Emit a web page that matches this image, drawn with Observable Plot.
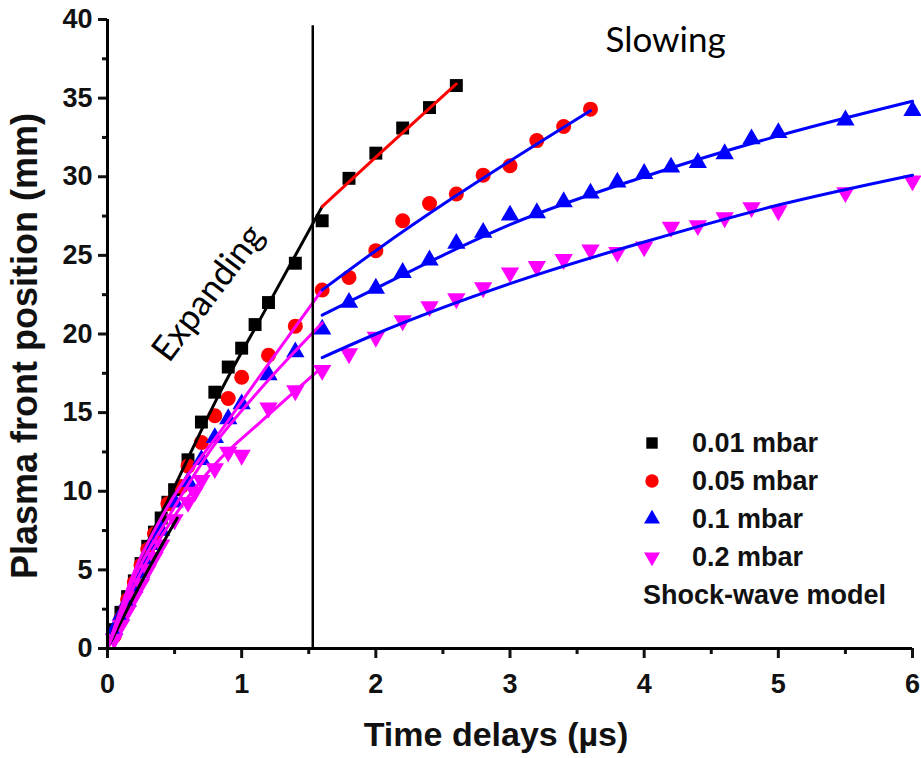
<!DOCTYPE html>
<html><head><meta charset="utf-8">
<script src="https://cdn.jsdelivr.net/npm/d3@7"></script>
<script src="https://cdn.jsdelivr.net/npm/@observablehq/plot@0.6"></script>
<style>
body{margin:0;background:#fff;}
#wrap{position:relative;width:921px;height:758px;}
#legend{position:absolute;left:640px;top:424px;font:bold 27px "Liberation Sans",Arial,sans-serif;color:#111;}
#legend .row{height:38px;display:flex;align-items:center;white-space:nowrap;}
#legend svg{width:24px;height:24px;margin-right:28px;}
</style></head><body><div id="wrap"></div>
<script>
// ---- series ----
const seriesNames = ["0.01 mbar","0.05 mbar","0.1 mbar","0.2 mbar"];
const seriesColors = ["#000000","#ff0000","#0000ff","#ff00ff"];
const seriesSymbols = ["square","circle","triangle","triangle-down"];

const t001 = [0.05,0.1,0.15,0.2,0.25,0.3,0.35,0.4,0.45,0.5,0.6,0.7,0.8,0.9,1.0,1.1,1.2,1.4,1.6,1.8,2.0,2.2,2.4,2.6];
const y001 = [1.2,2.3,3.3,4.3,5.4,6.5,7.4,8.3,9.3,10.1,12.0,14.4,16.3,17.9,19.1,20.6,22.0,24.5,27.2,29.9,31.5,33.1,34.4,35.8];

const t005 = [0.05,0.1,0.15,0.2,0.25,0.3,0.35,0.45,0.55,0.6,0.7,0.8,0.9,1.0,1.2,1.4,1.6,1.8,2.0,2.2,2.4,2.6,2.8,3.0,3.2,3.4,3.6];
const y005 = [0.8,1.9,3.1,4.2,5.3,6.3,7.3,9.2,10.3,11.6,13.1,14.8,15.9,17.25,18.65,20.5,22.8,23.6,25.3,27.2,28.3,28.9,30.1,30.7,32.3,33.2,34.3];

const t01 = [0.05,0.1,0.15,0.2,0.25,0.3,0.35,0.4,0.5,0.6,0.7,0.8,0.9,1.0,1.2,1.4,1.6,1.8,2.0,2.2,2.4,2.6,2.8,3.0,3.2,3.4,3.6,3.8,4.0,4.2,4.4,4.6,4.8,5.0,5.5,6.0];
const y01 = [1.2,2.1,3.0,3.9,4.8,5.7,6.6,7.5,9.3,10.6,12.0,13.4,14.6,15.55,17.4,18.85,20.3,22.0,22.9,23.9,24.7,25.75,26.45,27.55,27.7,28.4,28.95,29.65,30.2,30.6,30.9,31.45,32.4,32.8,33.6,34.2];

const t02 = [0.05,0.1,0.15,0.2,0.25,0.3,0.35,0.4,0.5,0.6,0.65,0.7,0.8,0.9,1.0,1.2,1.4,1.6,1.8,2.0,2.2,2.4,2.6,2.8,3.0,3.2,3.4,3.6,3.8,4.0,4.2,4.4,4.6,4.8,5.0,5.5,6.0];
const y02 = [0.6,1.5,2.4,3.3,4.1,5.0,5.8,6.6,8.2,9.3,9.95,10.7,11.45,12.5,12.3,15.3,16.4,17.7,18.75,19.8,20.85,21.75,22.25,22.95,23.9,24.3,24.75,25.35,25.2,25.55,26.8,26.9,27.4,28.05,27.85,29.0,29.75];

// ---- shock-wave model fits ----
const fitExp001T = [0,0.1,0.25,0.5,0.84,1.2,1.6];
const fitExp001Y = [0,2.6,5.8,10.3,16.3,21.9,28.1];
const fitExpShortT = [0,0.27,0.52];
const fitExpShortY = [0,4.5,8.3];
const fitExp005T = [0,0.2,0.4,0.9,1.2,1.6];
const fitExp005Y = [0,4.9,8.3,14.5,18.1,22.8];
const fitExp01T = [0,0.2,0.43,0.8,1.14,1.6];
const fitExp01Y = [0,4.5,8.0,13.0,16.5,20.7];
const fitExp02T = [0,0.2,0.49,0.8,1.14,1.6];
const fitExp02Y = [0,4.0,8.3,11.7,14.4,17.9];

const fitSlow001T = [1.6,2.0,2.6];
const fitSlow001Y = [28.1,31.25,35.9];
const fitSlow005T = [1.6,2.0,2.6,3.0,3.6];
const fitSlow005Y = [22.8,25.3,28.8,31.0,34.2];
const fitSlow01T = [1.6,2.0,2.5,3.0,4.0,5.0,6.0];
const fitSlow01Y = [21.2,22.9,25.0,26.95,30.0,32.6,34.8];
const fitSlow02T = [1.6,2.0,3.0,4.0,5.0,6.0];
const fitSlow02Y = [18.5,20.0,23.2,25.85,28.2,30.1];

const boundaryT = [1.53];
const boundaryTop = 39.6;

// ---- ticks / labels ----
const xTicks = [0,1,2,3,4,5,6];
const xMinorTicks = [0.5,1.5,2.5,3.5,4.5,5.5];
const yTicks = [0,5,10,15,20,25,30,35,40];
const yMinorTicks = [2.5,7.5,12.5,17.5,22.5,27.5,32.5,37.5];
const xLabel = "Time delays (\u00b5s)";
const yLabel = "Plasma front position (mm)";
const legendModel = "Shock-wave model";
const annoText = ["Expanding","Slowing"];
const annoX = [0.75, 4.16];
const annoY = [22.6, 38.65];
const annoRotate = [-53, 0];

// ---- build tables ----
const toRows = (ts, ys) => ts.map((t, i) => ({t, y: ys[i]}));
const pts = [toRows(t001,y001), toRows(t005,y005), toRows(t01,y01), toRows(t02,y02)];
const fitDefs = [
  [fitExp001T, fitExp001Y, "#000000"],
  [fitExpShortT, fitExpShortY, "#000000"],
  [fitExp005T, fitExp005Y, "#ff00ff"],
  [fitExp01T, fitExp01Y, "#ff00ff"],
  [fitExp02T, fitExp02Y, "#ff00ff"],
  [fitSlow001T, fitSlow001Y, "#ff0000"],
  [fitSlow005T, fitSlow005Y, "#0000ff"],
  [fitSlow01T, fitSlow01Y, "#0000ff"],
  [fitSlow02T, fitSlow02Y, "#0000ff"]
];
const fitRows = fitDefs.flatMap(([ts, ys, c], k) => ts.map((t, i) => ({t, y: ys[i], id: k, color: c})));
const annoRows = annoText.map((s, i) => ({s, x: annoX[i], y: annoY[i], r: annoRotate[i]}));

const FONT = '"Liberation Sans", Arial, sans-serif';
const ANNO_FONT = 'Lato, "Open Sans", sans-serif';

const dotMark = (k) => Plot.dot(pts[k], {
  x: "t", y: "y",
  symbol: seriesSymbols[k] === "triangle-down" ? "triangle" : seriesSymbols[k],
  rotate: seriesSymbols[k] === "triangle-down" ? 180 : 0,
  fill: seriesColors[k], stroke: "none",
  r: seriesSymbols[k] === "square" ? 7.3 : seriesSymbols[k] === "circle" ? 7.5 : 6.8
});

const chart = Plot.plot({
  width: 921, height: 758,
  marginLeft: 107, marginRight: 9, marginTop: 19, marginBottom: 110,
  style: {fontFamily: FONT, background: "#fff", overflow: "visible", color: "#111"},
  x: {domain: [0, 6]},
  y: {domain: [0, 40]},
  color: {type: "identity"},
  marks: [
    dotMark(0), dotMark(1), dotMark(2), dotMark(3),
    Plot.line(fitRows, {x: "t", y: "y", z: "id", stroke: "color", strokeWidth: 3, curve: "monotone-x"}),
    Plot.ruleX(boundaryT, {y1: 0, y2: boundaryTop, stroke: "#000", strokeWidth: 2.5}),
    Plot.text(annoRows, {x: "x", y: "y", text: "s", rotate: "r", fontSize: 35, fontFamily: ANNO_FONT, fill: "#000"}),
    Plot.axisX(xTicks, {tickSize: 10, tickPadding: 15, strokeWidth: 3, fontSize: 27, fontWeight: "bold", tickFormat: d => String(d), label: null}),
    Plot.axisX(xMinorTicks, {tickSize: 6, strokeWidth: 3, tickFormat: () => "", label: null}),
    Plot.axisY(yTicks, {tickSize: 9, tickPadding: 6, strokeWidth: 3, fontSize: 27, fontWeight: "bold", tickFormat: d => String(d), label: null}),
    Plot.axisY(yMinorTicks, {tickSize: 5, strokeWidth: 3, tickFormat: () => "", label: null}),
    Plot.ruleX([0], {stroke: "#000", strokeWidth: 3}),
    Plot.ruleY([0], {stroke: "#000", strokeWidth: 3}),
    Plot.text([xLabel], {frameAnchor: "bottom", textAnchor: "middle", dx: -14, dy: 97, fontSize: 34, fontWeight: "bold", fill: "#111"}),
    Plot.text([yLabel], {frameAnchor: "left", textAnchor: "middle", dx: -82, dy: 12, rotate: -90, fontSize: 36, fontWeight: "bold", fill: "#111"})
  ]
});
const wrap = document.getElementById("wrap");
wrap.appendChild(chart);

// ---- legend ----
const legend = d3.select(wrap).append("div").attr("id", "legend");
const symGen = {
  "square": d3.symbol(d3.symbolSquare, 130),
  "circle": d3.symbol(d3.symbolCircle, 140),
  "triangle": d3.symbol(d3.symbolTriangle, 110),
  "triangle-down": d3.symbol(d3.symbolTriangle, 110)
};
seriesNames.forEach((name, k) => {
  const row = legend.append("div").attr("class", "row");
  const svg = row.append("svg").attr("viewBox", "-12 -12 24 24");
  svg.append("path").attr("d", symGen[seriesSymbols[k]]())
    .attr("fill", seriesColors[k])
    .attr("transform", seriesSymbols[k] === "triangle-down" ? "rotate(180)" : null);
  row.append("span").text(name);
});
legend.append("div").attr("class", "row").style("margin-left", "3px").text(legendModel);
</script></body></html>
